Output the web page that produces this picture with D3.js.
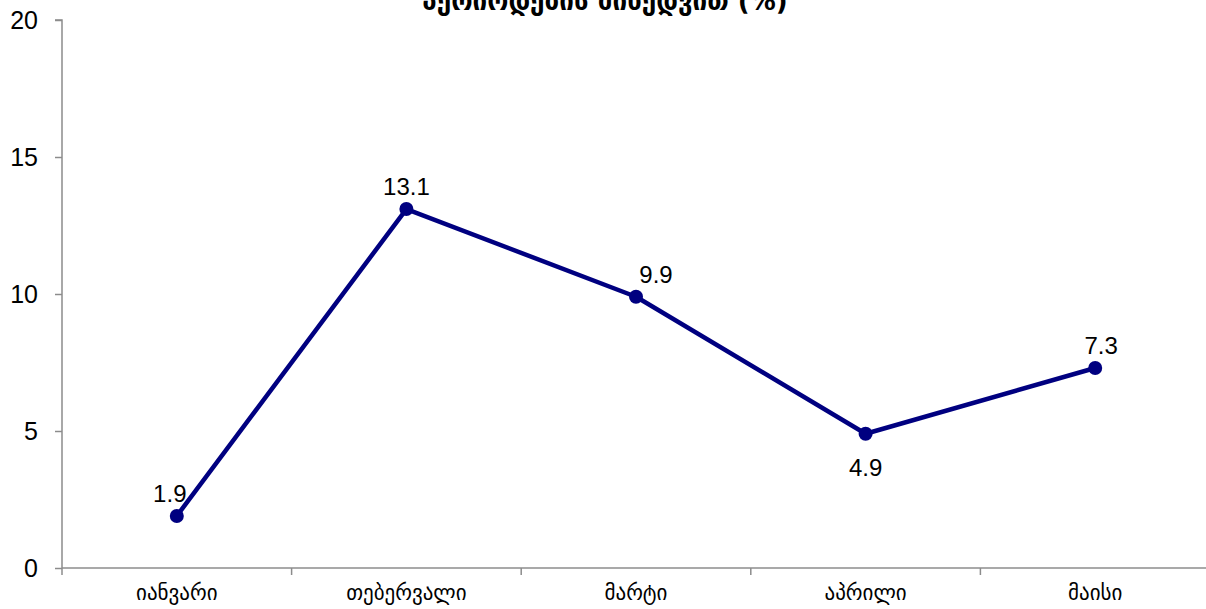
<!DOCTYPE html>
<html><head><meta charset="utf-8">
<script src="https://cdn.jsdelivr.net/npm/d3@7"></script>
<style>html,body{margin:0;padding:0;background:#fff;overflow:hidden}</style>
</head><body>
<svg id="c" width="1206" height="609"></svg>
<script>
const title = "პერიოდების მიხედვით (%)";
const categories = ["იანვარი","თებერვალი","მარტი","აპრილი","მაისი"];
const values = [1.9, 13.1, 9.9, 4.9, 7.3];
const yTicks = [0, 5, 10, 15, 20];
// label placement: above / below, with small horizontal nudge (in px)
const labelPos = ["above","above","above-right","below","above"];

const svg = d3.select("#c");
const m = {left:62, right:-4, top:20, bottom:41};
const W = 1206, H = 609;
const x = d3.scaleBand().domain(categories).range([m.left, W - m.right]).padding(0);
const y = d3.scaleLinear().domain([0,20]).range([H - m.bottom, m.top]);

const axisColor = "#8c8c8c";
// y axis
const ya = svg.append("g").attr("transform",`translate(${m.left},0)`)
  .call(d3.axisLeft(y).tickValues(yTicks).tickSize(7).tickPadding(17).tickFormat(d3.format("d")));
ya.select(".domain").attr("stroke",axisColor).attr("stroke-width",1.5).attr("d",`M-7,${y(20)}H0V${y(0)}`);
ya.selectAll(".tick line").attr("stroke",axisColor).attr("stroke-width",1.5);
ya.selectAll(".tick text").attr("font-family","Liberation Sans, Arial, sans-serif").attr("font-size",25).attr("fill","#000");

// x axis
const xa = svg.append("g").attr("transform",`translate(0,${y(0)})`);
xa.append("line").attr("x1",m.left).attr("x2",W).attr("y1",0).attr("y2",0).attr("stroke",axisColor).attr("stroke-width",1.5);
const bounds = categories.map(c => x(c)).concat([x(categories[categories.length-1]) + x.bandwidth()]);
xa.selectAll("line.t").data(bounds).join("line").attr("class","t")
  .attr("x1",d=>d).attr("x2",d=>d).attr("y1",0).attr("y2",7).attr("stroke",axisColor).attr("stroke-width",1.5);
xa.selectAll("text").data(categories).join("text")
  .attr("x",d=>x(d)+x.bandwidth()/2).attr("y",32).attr("text-anchor","middle")
  .attr("font-family","DejaVu Sans, sans-serif").attr("font-size",21).attr("fill","#000").text(d=>d);

// line
const cx = (d,i) => x(categories[i]) + x.bandwidth()/2;
const line = d3.line().x((d,i)=>cx(d,i)).y(d=>y(d));
svg.append("path").datum(values).attr("d",line).attr("fill","none")
  .attr("stroke","#000080").attr("stroke-width",4.5).attr("stroke-linejoin","round");
svg.selectAll("circle.p").data(values).join("circle").attr("class","p")
  .attr("cx",(d,i)=>cx(d,i)).attr("cy",d=>y(d)).attr("r",7).attr("fill","#000080");

// labels
svg.selectAll("text.l").data(values).join("text").attr("class","l")
  .attr("x",(d,i)=>cx(d,i) + (labelPos[i]==="above-right"?20:(i===0?-7:(i===4?6:0))))
  .attr("y",(d,i)=>y(d) + (labelPos[i]==="below"?42:-14))
  .attr("text-anchor","middle")
  .attr("font-family","Liberation Sans, Arial, sans-serif").attr("font-size",24).attr("fill","#000")
  .text(d=>d.toFixed(1));

// title (partially cut at top, like reference)
svg.append("text").attr("x",605).attr("y",10).attr("text-anchor","middle")
  .attr("font-family","DejaVu Sans, sans-serif").attr("font-weight","bold").attr("font-size",26)
  .attr("fill","#000").text(title);
</script>
</body></html>
